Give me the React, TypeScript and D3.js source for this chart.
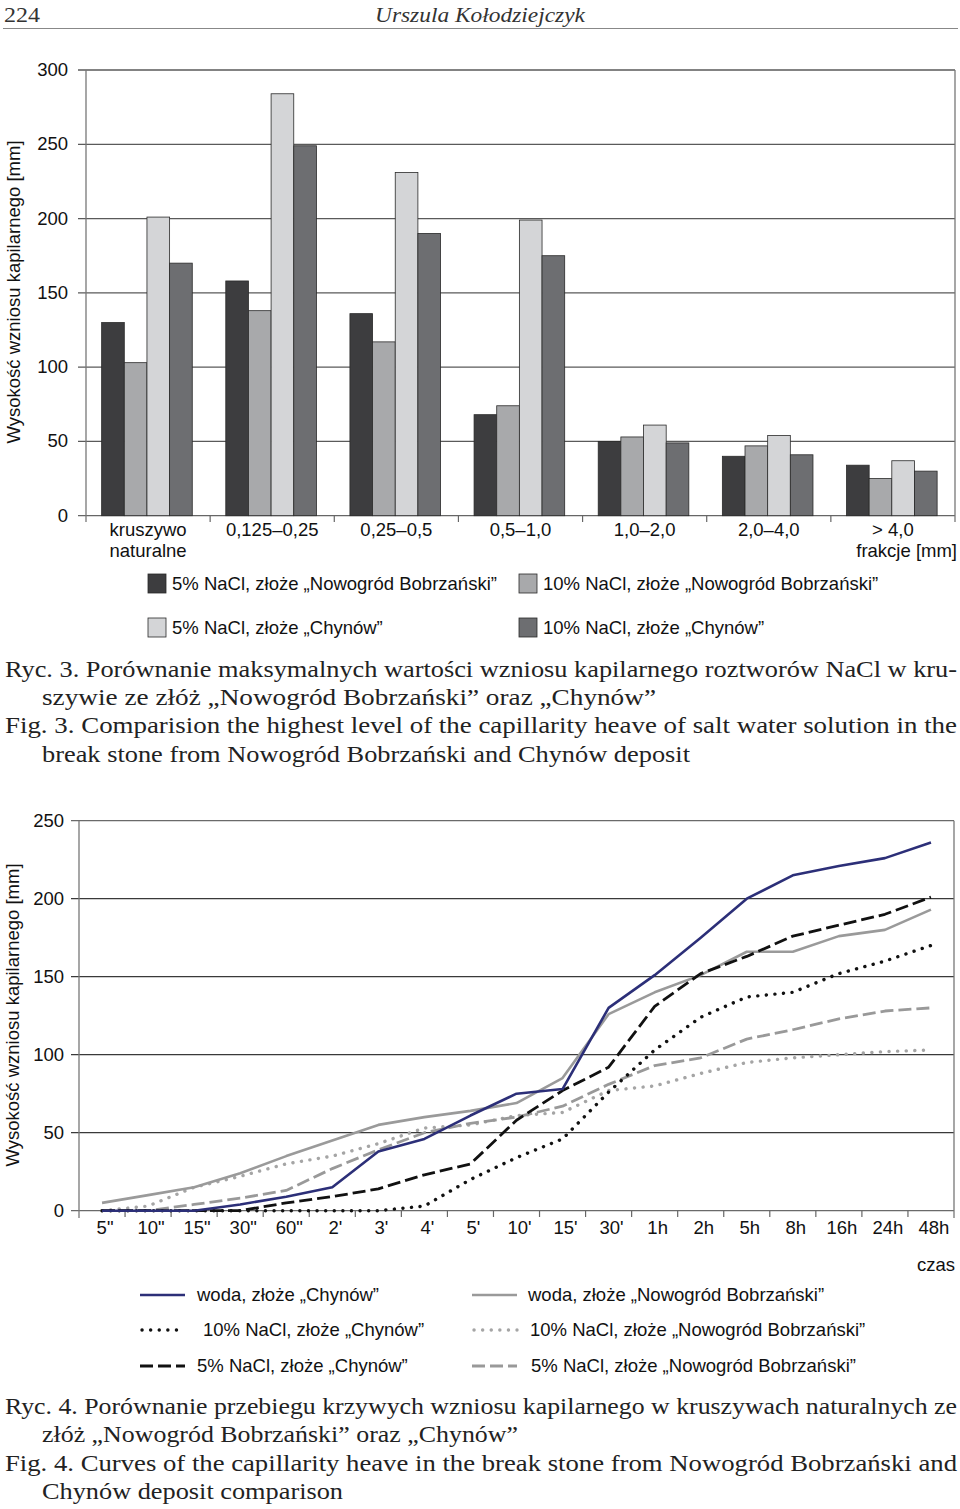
import React from "react";
import * as d3 from "d3";

// ---------- Figure 3 data (bar chart) ----------
const barCategories = ["kruszywo\nnaturalne", "0,125–0,25", "0,25–0,5", "0,5–1,0", "1,0–2,0", "2,0–4,0", "> 4,0"];
const barSeriesNames = [
  "5% NaCl, złoże „Nowogród Bobrzański”",
  "10% NaCl, złoże „Nowogród Bobrzański”",
  "5% NaCl, złoże „Chynów”",
  "10% NaCl, złoże „Chynów”",
];
const nacl5Nowogrod = [130, 158, 136, 68, 50, 40, 34];
const nacl10Nowogrod = [103, 138, 117, 74, 53, 47, 25];
const nacl5Chynow = [201, 284, 231, 199, 61, 54, 37];
const nacl10Chynow = [170, 249, 190, 175, 49, 41, 30];
const barTicks = [0, 50, 100, 150, 200, 250, 300];

// ---------- Figure 4 data (line chart) ----------
const times = ['5"', '10"', '15"', '30"', '60"', "2'", "3'", "4'", "5'", "10'", "15'", "30'", "1h", "2h", "5h", "8h", "16h", "24h", "48h"];
const wodaChynow = [0, 0, 0, 4, 9, 15, 38, 46, 61, 75, 78, 130, 151, 175, 200, 215, 221, 226, 236];
const wodaNowogrod = [5, 10, 15, 24, 35, 45, 55, 60, 64, 69, 85, 126, 140, 151, 166, 166, 176, 180, 193];
const nacl10ChynowLine = [0, 0, 0, 0, 0, 0, 0, 3, 20, 34, 46, 76, 103, 124, 137, 140, 152, 160, 170];
const nacl10NowogrodLine = [0, 3, 15, 22, 30, 35, 43, 53, 55, 61, 63, 77, 80, 88, 95, 98, 100, 102, 103];
const nacl5ChynowLine = [0, 0, 0, 0, 5, 9, 14, 23, 30, 58, 77, 92, 131, 152, 163, 176, 183, 190, 201];
const nacl5NowogrodLine = [0, 0, 4, 8, 13, 27, 39, 50, 56, 60, 67, 81, 93, 98, 110, 116, 123, 128, 130];
const lineTicks = [0, 50, 100, 150, 200, 250];
const lineSeriesNames = [
  "woda, złoże „Chynów”",
  "woda, złoże „Nowogród Bobrzański”",
  "10% NaCl, złoże „Chynów”",
  "10% NaCl, złoże „Nowogród Bobrzański”",
  "5% NaCl, złoże „Chynów”",
  "5% NaCl, złoże „Nowogród Bobrzański”",
];

const SANS = "'Liberation Sans', Arial, sans-serif";
const SERIF = "'Liberation Serif', 'Times New Roman', serif";
const FS = 18.5;

const barColors = ["#3d3d3f", "#a8a9ab", "#d4d5d7", "#6d6e71"];
const lineStyles = [
  { color: "#2c2f78", dash: "", width: 2.6, cap: "butt" },
  { color: "#9a9a9a", dash: "", width: 2.6, cap: "butt" },
  { color: "#111111", dash: "0.1 8.5", width: 3.4, cap: "round" },
  { color: "#a5a5a5", dash: "0.1 8.5", width: 3.4, cap: "round" },
  { color: "#111111", dash: "13 5", width: 2.8, cap: "butt" },
  { color: "#999999", dash: "13 5", width: 2.8, cap: "butt" },
];

function BarChart() {
  const series = [nacl5Nowogrod, nacl10Nowogrod, nacl5Chynow, nacl10Chynow];
  const x0 = d3.scaleBand<string>().domain(barCategories).range([86, 955]);
  const bw = x0.bandwidth();
  const x1 = d3
    .scaleBand<string>()
    .domain(barSeriesNames)
    .range([bw * 0.126, bw * 0.856]);
  const y = d3.scaleLinear().domain([0, 300]).range([515.7, 70]);
  return (
    <g>
      {barTicks.map((t) => (
        <g key={t}>
          <line x1={78} x2={955} y1={y(t)} y2={y(t)} stroke={t === 0 ? "#666" : "#5a5a5a"} strokeWidth={1.3} />
          <text x={68} y={y(t) + 6} textAnchor="end" fontFamily={SANS} fontSize={FS} fill="#111">
            {t}
          </text>
        </g>
      ))}
      <line x1={86} x2={86} y1={70} y2={522} stroke="#777" strokeWidth={1.3} />
      <line x1={955} x2={955} y1={70} y2={522} stroke="#777" strokeWidth={1.3} />
      {barCategories.map((c, i) =>
        i > 0 ? <line key={c} x1={x0(c)} x2={x0(c)} y1={515.7} y2={522} stroke="#666" strokeWidth={1.2} /> : null
      )}
      {series.map((vals, si) =>
        vals.map((v, ci) => (
          <rect
            key={si + "-" + ci}
            x={(x0(barCategories[ci]) as number) + (x1(barSeriesNames[si]) as number)}
            y={y(v)}
            width={x1.bandwidth()}
            height={y(0) - y(v)}
            fill={barColors[si]}
            stroke="#2a2a2a"
            strokeWidth={0.8}
          />
        ))
      )}
      {barCategories.map((c) => {
        const lines = c.split("\n");
        const cx = (x0(c) as number) + bw / 2;
        return lines.map((ln, li) => (
          <text key={c + li} x={cx} y={536 + li * 21} textAnchor="middle" fontFamily={SANS} fontSize={FS} fill="#111">
            {ln}
          </text>
        ));
      })}
      <text x={957} y={557} textAnchor="end" fontFamily={SANS} fontSize={FS} fill="#111">
        frakcje [mm]
      </text>
      <text transform="translate(20,292) rotate(-90)" textAnchor="middle" fontFamily={SANS} fontSize={FS} fill="#111">
        Wysokość wzniosu kapilarnego [mm]
      </text>
      {barSeriesNames.map((name, i) => {
        const col = i % 2;
        const row = Math.floor(i / 2);
        const sx = col === 0 ? 148 : 519;
        const sy = row === 0 ? 574 : 618;
        return (
          <g key={name}>
            <rect x={sx} y={sy} width={18} height={19} fill={barColors[i]} stroke="#2a2a2a" strokeWidth={0.8} />
            <text x={sx + 24} y={sy + 16} fontFamily={SANS} fontSize={FS} fill="#111">
              {name}
            </text>
          </g>
        );
      })}
    </g>
  );
}

function LineChart() {
  const series = [wodaChynow, wodaNowogrod, nacl10ChynowLine, nacl10NowogrodLine, nacl5ChynowLine, nacl5NowogrodLine];
  const x = d3.scaleBand<string>().domain(times).range([79, 954]);
  const bw = x.bandwidth();
  const y = d3.scaleLinear().domain([0, 250]).range([1210.7, 820.7]);
  const lineGen = d3
    .line<number>()
    .x((_, i) => (x(times[i]) as number) + bw / 2)
    .y((d) => y(d));
  const drawOrder = [3, 5, 1, 2, 4, 0];
  return (
    <g>
      {lineTicks.map((t) => (
        <g key={t}>
          <line x1={71} x2={954} y1={y(t)} y2={y(t)} stroke={t === 0 || t === 250 ? "#6a6a6a" : "#3a3a3a"} strokeWidth={1.3} />
          <text x={64} y={y(t) + 6} textAnchor="end" fontFamily={SANS} fontSize={FS} fill="#111">
            {t}
          </text>
        </g>
      ))}
      <line x1={79} x2={79} y1={820.7} y2={1218} stroke="#777" strokeWidth={1.3} />
      <line x1={954} x2={954} y1={820.7} y2={1218} stroke="#777" strokeWidth={1.3} />
      {times.map((t, i) =>
        i > 0 ? <line key={t} x1={x(t)} x2={x(t)} y1={1210.7} y2={1217} stroke="#666" strokeWidth={1.2} /> : null
      )}
      {drawOrder.map((si) => (
        <path
          key={si}
          d={lineGen(series[si]) as string}
          fill="none"
          stroke={lineStyles[si].color}
          strokeWidth={lineStyles[si].width}
          strokeDasharray={lineStyles[si].dash || undefined}
          strokeLinecap={lineStyles[si].cap as any}
          strokeLinejoin="round"
        />
      ))}
      {times.map((t) => (
        <text key={t} x={(x(t) as number) + bw / 2 + 3} y={1234} textAnchor="middle" fontFamily={SANS} fontSize={FS} fill="#111">
          {t}
        </text>
      ))}
      <text x={955} y={1271} textAnchor="end" fontFamily={SANS} fontSize={FS} fill="#111">
        czas
      </text>
      <text transform="translate(19,1015) rotate(-90)" textAnchor="middle" fontFamily={SANS} fontSize={FS} fill="#111">
        Wysokość wzniosu kapilarnego [mm]
      </text>
      {lineSeriesNames.map((name, i) => {
        const col = i % 2;
        const row = Math.floor(i / 2);
        const lx = col === 0 ? 140 : 472;
        const ly = [1295, 1330, 1366][row];
        const tx = col === 0 ? (row === 1 ? 203 : 197) : row === 0 ? 528 : row === 1 ? 530 : 531;
        const st = lineStyles[i];
        return (
          <g key={name}>
            <line
              x1={lx + (st.cap === "round" ? 2 : 0)}
              x2={lx + 45}
              y1={ly}
              y2={ly}
              stroke={st.color}
              strokeWidth={st.width}
              strokeDasharray={st.dash || undefined}
              strokeLinecap={st.cap as any}
            />
            <text x={tx} y={ly + 6} fontFamily={SANS} fontSize={FS} fill="#111">
              {name}
            </text>
          </g>
        );
      })}
    </g>
  );
}

const captionLines = [
  { text: "Ryc. 3. Porównanie maksymalnych wartości wzniosu kapilarnego roztworów NaCl w kru-", x: 5, y: 677, w: 952 },
  { text: "szywie ze złóż „Nowogród Bobrzański” oraz „Chynów”", x: 42, y: 705, w: 614 },
  { text: "Fig. 3. Comparision the highest level of the capillarity heave of salt water solution in the", x: 5, y: 733, w: 952 },
  { text: "break stone from Nowogród Bobrzański and Chynów deposit", x: 42, y: 762, w: 648 },
  { text: "Ryc. 4. Porównanie przebiegu krzywych wzniosu kapilarnego w kruszywach naturalnych ze", x: 5, y: 1414, w: 952 },
  { text: "złóż „Nowogród Bobrzański” oraz „Chynów”", x: 42, y: 1442, w: 476 },
  { text: "Fig. 4. Curves of the capillarity heave in the break stone from Nowogród Bobrzański and", x: 5, y: 1471, w: 952 },
  { text: "Chynów deposit comparison", x: 42, y: 1499, w: 301 },
];

export default function App() {
  return (
    <svg width={960} height={1509} viewBox="0 0 960 1509" style={{ position: "absolute", left: 0, top: 0, background: "#fff" }}>
      <rect x={0} y={0} width={960} height={1509} fill="#fff" />
      <text x={4} y={22} fontFamily={SERIF} fontSize={22} fill="#333" textLength={36} lengthAdjust="spacingAndGlyphs">
        224
      </text>
      <text
        x={480}
        y={22}
        textAnchor="middle"
        fontFamily={SERIF}
        fontStyle="italic"
        fontSize={22}
        fill="#333"
        textLength={210}
        lengthAdjust="spacingAndGlyphs"
      >
        Urszula Kołodziejczyk
      </text>
      <line x1={3} x2={958} y1={28.5} y2={28.5} stroke="#888" strokeWidth={1.2} />
      <BarChart />
      <LineChart />
      {captionLines.map((c, i) => (
        <text key={i} x={c.x} y={c.y} fontFamily={SERIF} fontSize={22.5} fill="#222" textLength={c.w} lengthAdjust="spacingAndGlyphs">
          {c.text}
        </text>
      ))}
    </svg>
  );
}
